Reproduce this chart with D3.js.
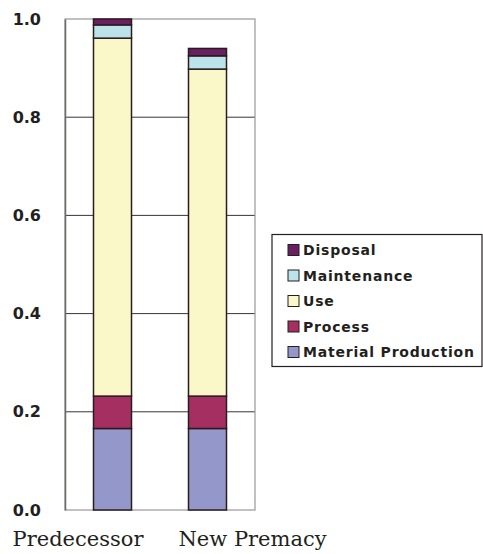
<!DOCTYPE html>
<html>
<head>
<meta charset="utf-8">
<script src="https://cdn.jsdelivr.net/npm/d3@7"></script>
<style>
  html, body { margin: 0; padding: 0; background: #fff; }
  svg { display: block; }
</style>
</head>
<body>
<svg id="chart" width="483" height="554"></svg>
<script>
// Life-cycle stages (bottom to top in each stacked bar)
const stages = ["Material Production", "Process", "Use", "Maintenance", "Disposal"];
const models = ["Predecessor", "New Premacy"];
const materialProduction = [0.166, 0.166];
const processStage = [0.066, 0.066];
const useStage = [0.729, 0.666];
const maintenance = [0.027, 0.027];
const disposal = [0.012, 0.015];
const yTicks = [0.0, 0.2, 0.4, 0.6, 0.8, 1.0];
const stageColors = ["#9397c9", "#a52f60", "#faf7c9", "#bbe3e9", "#6a1f63"];

const rows = models.map((m, i) => ({
  model: m,
  "Material Production": materialProduction[i],
  "Process": processStage[i],
  "Use": useStage[i],
  "Maintenance": maintenance[i],
  "Disposal": disposal[i]
}));

const svg = d3.select("#chart");
const plot = { left: 65, right: 255, top: 19, bottom: 510 };

const x = d3.scaleBand().domain(models).range([plot.left, plot.right]).paddingInner(0.6).paddingOuter(0.3);
const y = d3.scaleLinear().domain([0, 1]).range([plot.bottom, plot.top]);
const color = d3.scaleOrdinal().domain(stages).range(stageColors);

// gridlines
svg.append("g")
  .selectAll("line")
  .data(yTicks.filter(t => t > 0 && t < 1))
  .join("line")
  .attr("x1", plot.left).attr("x2", plot.right)
  .attr("y1", d => y(d)).attr("y2", d => y(d))
  .attr("stroke", "#3a3434").attr("stroke-width", 1);

// plot frame
svg.append("rect")
  .attr("x", plot.left).attr("y", plot.top)
  .attr("width", plot.right - plot.left).attr("height", plot.bottom - plot.top)
  .attr("fill", "none").attr("stroke", "#9a9696").attr("stroke-width", 1.2);

// y axis
const yAxis = svg.append("g")
  .attr("transform", `translate(${plot.left},0)`)
  .call(d3.axisLeft(y).tickValues(yTicks).tickFormat(d3.format(".1f")).tickSize(0).tickPadding(24));
yAxis.select(".domain").attr("stroke", "#6e6a6a").attr("stroke-width", 1.5);
yAxis.selectAll("text")
  .attr("font-family", "'DejaVu Sans', sans-serif")
  .attr("font-weight", "bold")
  .attr("font-size", 16)
  .attr("fill", "#231f20");

// stacked bars
const series = d3.stack().keys(stages)(rows);
svg.append("g")
  .selectAll("g")
  .data(series)
  .join("g")
  .attr("fill", d => color(d.key))
  .selectAll("rect")
  .data(d => d)
  .join("rect")
  .attr("x", d => x(d.data.model))
  .attr("width", x.bandwidth())
  .attr("y", d => y(d[1]))
  .attr("height", d => y(d[0]) - y(d[1]))
  .attr("stroke", "#2a1c1e")
  .attr("stroke-width", 1.5);

// category labels
const xLabel = d3.scalePoint().domain(models).range([78, 252.5]);
svg.append("g")
  .selectAll("text")
  .data(models)
  .join("text")
  .attr("x", d => xLabel(d))
  .attr("y", 546)
  .attr("text-anchor", "middle")
  .attr("font-family", "'DejaVu Serif', serif")
  .attr("font-size", 21)
  .attr("fill", "#231f20")
  .text(d => d);

// legend (top entry is the top of the stack)
const legend = svg.append("g");
legend.append("rect")
  .attr("x", 272).attr("y", 234.5)
  .attr("width", 210).attr("height", 132)
  .attr("fill", "#fff").attr("stroke", "#231f20").attr("stroke-width", 1.2);
const legendOrder = stages.slice().reverse();
const ly = d3.scalePoint().domain(legendOrder).range([250, 352]);
const item = legend.selectAll("g.item")
  .data(legendOrder)
  .join("g")
  .attr("class", "item")
  .attr("transform", d => `translate(288,${ly(d)})`);
item.append("rect")
  .attr("x", 0).attr("y", -5.5)
  .attr("width", 11).attr("height", 11)
  .attr("fill", d => color(d))
  .attr("stroke", "#231f20").attr("stroke-width", 1);
item.append("text")
  .attr("x", 15).attr("y", 0)
  .attr("dy", "0.36em")
  .attr("font-family", "'DejaVu Sans', sans-serif")
  .attr("font-weight", "bold")
  .attr("font-size", 14)
  .attr("letter-spacing", 0.8)
  .attr("fill", "#231f20")
  .text(d => d);
</script>
</body>
</html>
